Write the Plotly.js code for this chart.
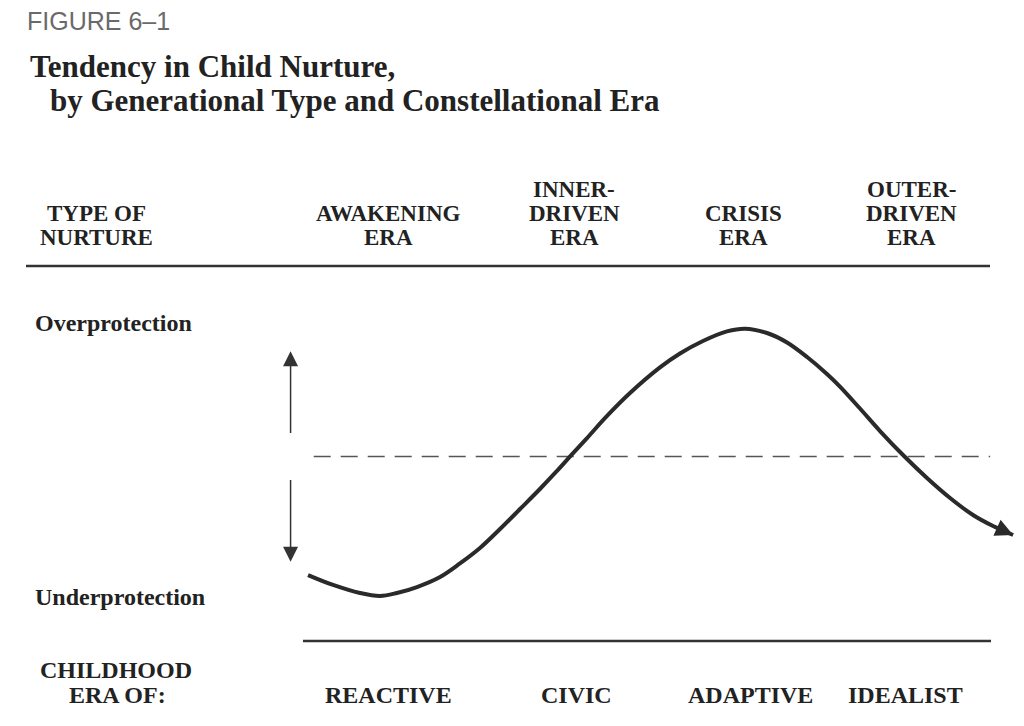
<!DOCTYPE html>
<html>
<head>
<meta charset="utf-8">
<script src="https://cdn.plot.ly/plotly-3.0.1.min.js"></script>
<style>html,body{margin:0;padding:0;background:#fff;}#chart{width:1024px;height:726px;}</style>
</head>
<body>
<div id="chart"></div>
<script>
// ---- data ----
// x: position in the generational cycle (era units), y: nurture tendency (+1 over-, -1 under-protection)
const cyclePhase = [0.047,0.193,0.350,0.467,0.566,0.683,0.818,0.934,1.051,1.168,1.285,1.401,1.495,1.588,1.676,1.793,1.927,2.102,2.219,2.353,2.493,2.599,2.727,2.844,2.961,3.077,3.153,3.270,3.387,3.533,3.661,3.796,3.930,4.047,4.164];
const nurtureTendency = [-0.912,-0.988,-1.050,-1.073,-1.050,-1.004,-0.927,-0.823,-0.704,-0.558,-0.404,-0.250,-0.119,0.016,0.142,0.312,0.488,0.685,0.792,0.888,0.962,0.983,0.950,0.877,0.765,0.635,0.538,0.369,0.196,-0.004,-0.165,-0.319,-0.450,-0.535,-0.604];
const neutralX = [0.08, 4.03];
const neutralY = [0, 0];
const scaleArrowX = -0.055;
const scaleArrowUp = [0.17, 0.81];
const scaleArrowDown = [-0.17, -0.81];

const figureLabel = "FIGURE 6–1";
const titleLines = ["Tendency in Child Nurture,", "by Generational Type and Constellational Era"];
const nurtureHeader = ["TYPE OF", "NURTURE"];
const eraHeaders = [["AWAKENING","ERA"],["INNER-","DRIVEN","ERA"],["CRISIS","ERA"],["OUTER-","DRIVEN","ERA"]];
const topLabel = "Overprotection";
const bottomLabel = "Underprotection";
const childhoodHeader = ["CHILDHOOD", "ERA OF:"];
const childhoodTypes = ["REACTIVE","CIVIC","ADAPTIVE","IDEALIST"];

// ---- layout constants (pixels in the 1024x726 frame) ----
const W = 1024, H = 726;
const X0 = 300, XS = 171.25, Y0 = 456.5, YS = 130;
const eraHeaderX = [388, 574, 743, 911];
const childhoodX = [388, 576, 750, 905];
const serif = "'Liberation Serif', 'Times New Roman', serif";
const ink = "#222";

const ann = [];
function px(x){ return x / W; }
function py(y){ return 1 - y / H; }
function txt(t, x, y, size, anchor, extra){
  ann.push(Object.assign({
    text: t, xref: 'paper', yref: 'paper', x: px(x), y: py(y),
    xanchor: anchor || 'center', yanchor: 'middle', showarrow: false, borderpad: 0,
    font: {family: serif, size: size, color: ink, weight: 'bold'}
  }, extra || {}));
}

txt(figureLabel, 26, 21, 25, 'left', {font:{family:"'Liberation Sans', Arial, sans-serif", size:25, color:'#6a6a6a', weight:'normal'}});
txt(titleLines[0], 29, 66, 31, 'left');
txt(titleLines[1], 49, 100, 31, 'left');

const rowY = [189.5, 213.2, 237];
nurtureHeader.forEach((l,i)=>txt(l, 96, rowY[i+1], 23));
eraHeaders.forEach((lines, k)=>{
  const start = 3 - lines.length;
  lines.forEach((l,i)=>txt(l, eraHeaderX[k], rowY[start+i], 23));
});
txt(topLabel, 34, 323, 24, 'left');
txt(bottomLabel, 34, 597, 24, 'left');
txt(childhoodHeader[0], 116, 670, 24);
txt(childhoodHeader[1], 117, 695, 24);
childhoodTypes.forEach((l,k)=>txt(l, childhoodX[k], 695, 24));

// curve end arrow
const n = cyclePhase.length;
ann.push({x: cyclePhase[n-1], y: nurtureTendency[n-1], ax: cyclePhase[n-2], ay: nurtureTendency[n-2],
  xref:'x', yref:'y', axref:'x', ayref:'y', text:'', showarrow:true, arrowhead:2, arrowsize:1.1, arrowwidth:3.2, arrowcolor:'#2a2a2a'});
// scale arrows
[scaleArrowUp, scaleArrowDown].forEach(a=>{
  ann.push({x: scaleArrowX, y: a[1], ax: scaleArrowX, ay: a[0], xref:'x', yref:'y', axref:'x', ayref:'y',
    text:'', showarrow:true, arrowhead:2, arrowsize:2, arrowwidth:1.5, arrowcolor:'#333'});
});

const traces = [
  {x: neutralX, y: neutralY, mode:'lines', line:{color:'#555', width:1.6, dash:'17px,10px'}, hoverinfo:'skip'},
  {x: cyclePhase, y: nurtureTendency, mode:'lines', line:{color:'#2a2a2a', width:4, shape:'spline', smoothing:1}, hoverinfo:'skip'}
];

const layout = {
  width: W, height: H, margin:{l:0,r:0,t:0,b:0}, showlegend:false,
  paper_bgcolor:'#fff', plot_bgcolor:'#fff',
  xaxis:{range:[(0-X0)/XS,(W-X0)/XS], visible:false, fixedrange:true},
  yaxis:{range:[(Y0-H)/YS, Y0/YS], visible:false, fixedrange:true},
  shapes:[
    {type:'line', xref:'paper', yref:'paper', x0:px(26), x1:px(990), y0:py(266), y1:py(266), line:{color:'#333', width:2.5}},
    {type:'line', xref:'paper', yref:'paper', x0:px(303), x1:px(991), y0:py(641), y1:py(641), line:{color:'#333', width:2.5}}
  ],
  annotations: ann
};
Plotly.newPlot('chart', traces, layout, {staticPlot:true, displayModeBar:false});
</script>
</body>
</html>
